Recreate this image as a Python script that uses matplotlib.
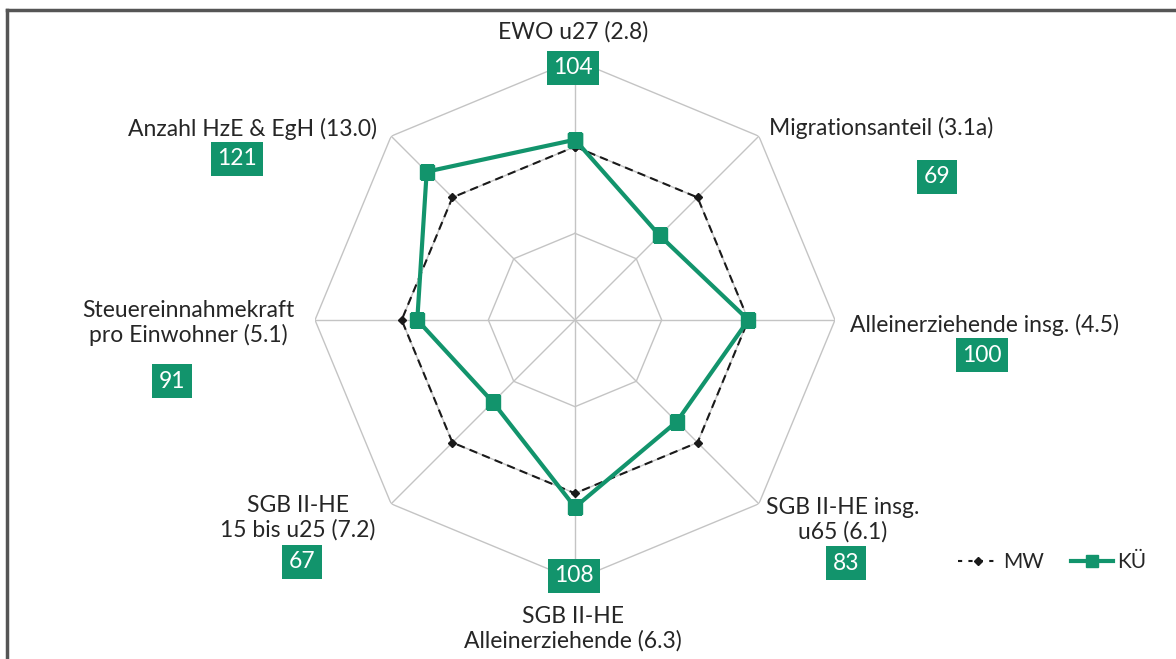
import numpy as np
import matplotlib
matplotlib.use('Agg')
import matplotlib.pyplot as plt
from matplotlib.lines import Line2D

# data
categories = ['EWO u27 (2.8)', 'Migrationsanteil (3.1a)', 'Alleinerziehende insg. (4.5)',
              'SGB II-HE insg.\nu65 (6.1)', 'SGB II-HE\nAlleinerziehende (6.3)',
              'SGB II-HE\n15 bis u25 (7.2)', 'Steuereinnahmekraft\npro Einwohner (5.1)',
              'Anzahl HzE & EgH (13.0)']
kue = [104, 69, 100, 83, 108, 67, 91, 121]
mw = [100, 100, 100, 100, 100, 100, 100, 100]
rings = [50, 100, 150]

green = '#12946c'
txtcol = '#262626'
plt.rcParams['font.family'] = ['Lato', 'DejaVu Sans']

W, H = 1176, 659
fig = plt.figure(figsize=(W / 100, H / 100), dpi=100)

# centre of the web at (575, 320) px, outer ring radius 260 px
cx, cy, R = 575, 320, 260
ax = fig.add_axes([(cx - R) / W, (H - cy - R) / H, 2 * R / W, 2 * R / H], projection='polar')
ax.set_theta_offset(np.pi / 2)
ax.set_theta_direction(-1)
ax.set_ylim(0, 150)
ax.grid(False)
ax.set_xticks([])
ax.set_yticks([])
ax.spines['polar'].set_visible(False)
ax.patch.set_alpha(0)

n = len(categories)
theta = np.arange(n) * 2 * np.pi / n
theta_c = np.append(theta, theta[0])

# octagon grid
for r in rings:
    ax.plot(theta_c, [r] * (n + 1), color='#c4c4c4', lw=1.0, zorder=1)
for t in theta:
    ax.plot([t, t], [0, rings[-1]], color='#c4c4c4', lw=1.0, zorder=1)

ax.plot(theta_c, mw + mw[:1], color='#1a1a1a', lw=1.5, ls=(0, (4, 2.5)),
        marker='D', markersize=4, zorder=3)
ax.plot(theta_c, kue + kue[:1], color=green, lw=3, marker='s', markersize=10, zorder=4)

def px(x, y):
    return x / W, 1 - y / H

# label text positions (px) and value box positions (px)
label_pos = [(573, 32, 'center'), (769, 128, 'left'), (850, 325, 'left'),
             (843, 520, 'center'), (573, 629, 'center'), (298, 518, 'center'),
             (188, 323, 'center'), (253, 129, 'center')]
box_pos = [(573, 68), (937, 177), (982, 355), (846, 563), (574, 576),
           (302, 562), (172, 381), (237, 159)]

for lab, (x, y, ha), (bx, by), v in zip(categories, label_pos, box_pos, kue):
    fig.text(*px(x, y), lab, ha=ha, va='center', fontsize=16.5, color=txtcol,
             linespacing=1.2)
    fig.text(*px(bx, by), str(v), ha='center', va='center', fontsize=16.5, color='white',
             bbox=dict(boxstyle='square,pad=0.28', fc=green, ec='none'))

# legend
handles = [Line2D([], [], color='#1a1a1a', lw=1.5, ls=(0, (2, 3)), marker='D', markersize=4),
           Line2D([], [], color=green, lw=3, marker='s', markersize=9)]
fig.legend(handles, ['MW', 'KÜ'], loc='center', bbox_to_anchor=px(1052, 562), ncol=2,
           frameon=False, fontsize=15, handlelength=2.0, handletextpad=0.2,
           columnspacing=1.3, labelcolor=txtcol)

# frame lines (top and left)
fig.add_artist(Line2D([7 / W, 1], [1 - 10 / H, 1 - 10 / H], color='#555555', lw=2.5))
fig.add_artist(Line2D([7 / W, 7 / W], [0, 1 - 10 / H], color='#555555', lw=2.5))

fig.savefig('out.png', dpi=100, facecolor='white')
